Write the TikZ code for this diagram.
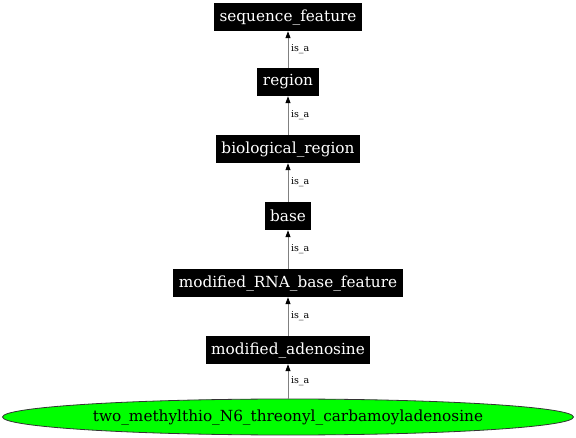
\documentclass[tikz,border=0pt]{standalone}
\usepackage{fontspec}
\setmainfont{DejaVu Serif}
\usetikzlibrary{arrows.meta,shapes.geometric}
\tikzset{
  term/.style={fill=black, text=white, inner xsep=5.5pt, inner ysep=0pt, minimum height=28pt,
    font=\fontsize{15.3}{18}\selectfont, anchor=center},
  leaf/.style={ellipse, draw=black!80, fill={rgb,255:red,0;green,255;blue,0}, line width=0.8pt,
    minimum width=571pt, minimum height=36pt, inner sep=0pt,
    font=\fontsize{15.3}{18}\selectfont},
  isa/.style={draw=black!50, line width=1pt, -{Triangle[length=7pt,width=5pt,color=black]}},
  lbl/.style={font=\fontsize{9.5}{11}\selectfont, anchor=west, inner sep=0pt, xshift=2.5pt}
}
\begin{document}
\begin{tikzpicture}[x=1pt,y=1pt]
\useasboundingbox (0,0) rectangle (576,-438);
\node[term] (sf) at (288,-17) {sequence\_feature};
\node[term] (reg) at (288,-82) {region};
\node[term] (bio) at (288,-149) {biological\_region};
\node[term] (base) at (288,-216) {base};
\node[term] (mrna) at (288,-283) {modified\_RNA\_base\_feature};
\node[term] (mad) at (288,-350) {modified\_adenosine};
\node[leaf] (two) at (288,-417) {two\_methylthio\_N6\_threonyl\_carbamoyladenosine};
\draw[isa] (reg.north) -- (sf.south) node[midway, lbl] {is\_a};
\draw[isa] (bio.north) -- (reg.south) node[midway, lbl] {is\_a};
\draw[isa] (base.north) -- (bio.south) node[midway, lbl] {is\_a};
\draw[isa] (mrna.north) -- (base.south) node[midway, lbl] {is\_a};
\draw[isa] (mad.north) -- (mrna.south) node[midway, lbl] {is\_a};
\draw[isa] (two.north) -- (mad.south) node[midway, lbl] {is\_a};
\end{tikzpicture}
\end{document}
